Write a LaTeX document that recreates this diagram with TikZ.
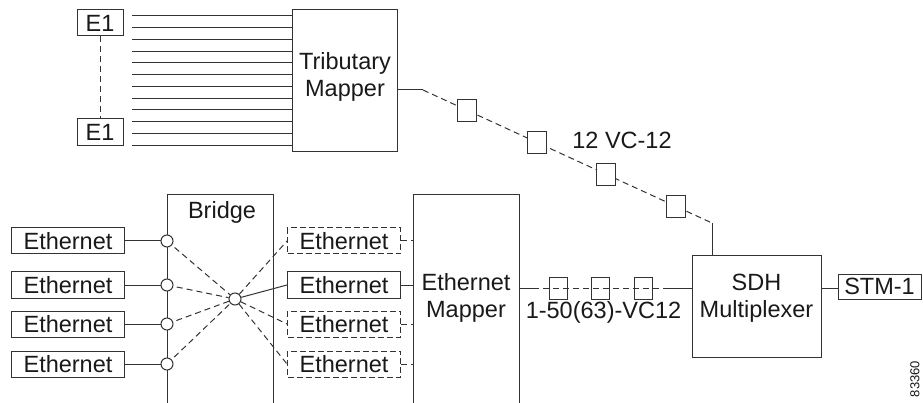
\documentclass[tikz,border=0pt]{standalone}
\usepackage{fontspec}
\setmainfont{Liberation Sans}
\begin{document}
\begin{tikzpicture}[x=1pt,y=-1pt,
  every node/.style={text=black!90},
  ln/.style={draw=black!80,line width=1pt},
  dsh/.style={ln,dash pattern=on 6pt off 4pt},
  bx/.style={ln,rectangle,inner sep=0pt,font=\fontsize{23.5}{27}\selectfont},
  txt/.style={inner sep=0pt,align=center,font=\fontsize{23.5}{27}\selectfont},
  vcbox/.style={ln,rectangle,inner sep=0pt,minimum width=19pt,minimum height=22pt},
  chbox/.style={ln,rectangle,inner sep=0pt,minimum width=18pt,minimum height=22pt},
  port/.style={ln,circle,fill=white,inner sep=0pt,minimum size=12pt},
  eth/.style={bx,minimum width=113pt,minimum height=26pt},
  ethd/.style={eth,dash pattern=on 6pt off 3pt}
]
\useasboundingbox (0,0) rectangle (923,403);

% ---- E1 and tributary mapper
\node[bx,minimum width=46pt,minimum height=26pt] (e1a) at (100,23) {E1};
\node[bx,minimum width=46pt,minimum height=27pt] (e1b) at (100,132.5) {E1};
\draw[dsh] (e1a) -- (e1b);
\node[bx,minimum width=105pt,minimum height=142pt] (trib) at (344.5,81) {};
\node[txt] (tribt) at (345,77) {Tributary\\Mapper};
\foreach \i in {0,...,11}{
  \coordinate (l\i) at (132,{16+\i*11.73});
  \draw[ln] (l\i) -- (l\i -| trib.west);
}
\coordinate (bend) at (423,90);
\coordinate (sdhin) at (712,223);
\draw[ln] (trib.east |- bend) -- (bend);
\draw[dsh] (bend) -- (sdhin);
\path (bend) -- (sdhin)
  node[vcbox,fill=white,pos=0.152] (v1) {}
  node[vcbox,fill=white,pos=0.394] (v2) {}
  node[vcbox,fill=white,pos=0.633] (v3) {}
  node[vcbox,fill=white,pos=0.875] (v4) {};
\node[txt] (vclab) at (622,140) {12 VC-12};

% ---- Bridge
\coordinate (brBL) at (167,403);
\coordinate (brTL) at (167,195);
\coordinate (brTR) at (273,195);
\coordinate (brBR) at (273,403);
\draw[ln] (brBL) -- (brTL) -- (brTR) -- (brBR);
\node[txt] (brlab) at (222,212) {Bridge};

\foreach \i/\y in {1/241,2/285,3/324,4/364}{
  \node[eth] (eL\i) at (68,\y) {Ethernet};
  \draw[ln] (eL\i.east) -- (167,\y) coordinate (pL\i);
}
\node[port] (cc) at (235,299) {};
% right ethernet boxes
\node[ethd] (eR1) at (344,241) {Ethernet};
\node[eth]  (eR2) at (344,285) {Ethernet};
\node[ethd] (eR3) at (344,324) {Ethernet};
\node[ethd] (eR4) at (344,364) {Ethernet};
\foreach \i in {1,...,4}{
  \draw[dsh] (pL\i) -- (cc);
  \node[port] (cL\i) at (pL\i) {};
}
\draw[ln] (cc) -- (eR2.west);
\draw[dsh] (cc) -- (eR1.west);
\draw[dsh] (cc) -- (eR3.west);
\draw[dsh] (cc) -- (eR4.west);

% ---- Ethernet mapper
\coordinate (emTL) at (413,195);
\coordinate (emTR) at (519,195);
\coordinate (emBL) at (413,403);
\coordinate (emBR) at (519,403);
\draw[ln] (emBL) -- (emTL) -- (emTR) -- (emBR);
\node[txt] (emlab) at (466,298) {Ethernet\\Mapper};
\draw[dsh] (eR1.east) -- (eR1.east -| emTL);
\draw[ln]  (eR2.east) -- (eR2.east -| emTL);
\draw[dsh] (eR3.east) -- (eR3.east -| emTL);
\draw[dsh] (eR4.east) -- (eR4.east -| emTL);

% ---- SDH multiplexer
\node[bx,minimum width=129pt,minimum height=101pt] (sdh) at (756.5,306.5) {};
\node[txt] (sdhlab) at (756.5,298.5) {SDH\\Multiplexer};
\draw[ln] (sdhin) -- (sdh.north -| sdhin);

\coordinate (chA) at (519,288);
\coordinate (chB) at (533,288);
\coordinate (chC) at (668,288);
\draw[ln] (chA) -- (chB);
\draw[dsh] (chB) -- (chC);
\draw[ln] (chC) -- (sdh.west |- chC);
\node[chbox] (c1) at (558,288) {};
\node[chbox] (c2) at (600.5,288) {};
\node[chbox] (c3) at (643,288) {};
\node[txt] (chlab) at (603.5,312) {1-50(63)-VC12};

\node[bx,minimum width=83pt,minimum height=25pt] (stm) at (879.5,286.5) {STM-1};
\draw[ln] (sdh.east |- chC) -- (stm.west |- chC);

\node[inner sep=0pt,rotate=90,font=\fontsize{13}{13}\selectfont] (fig) at (915,379) {83360};
\end{tikzpicture}
\end{document}
